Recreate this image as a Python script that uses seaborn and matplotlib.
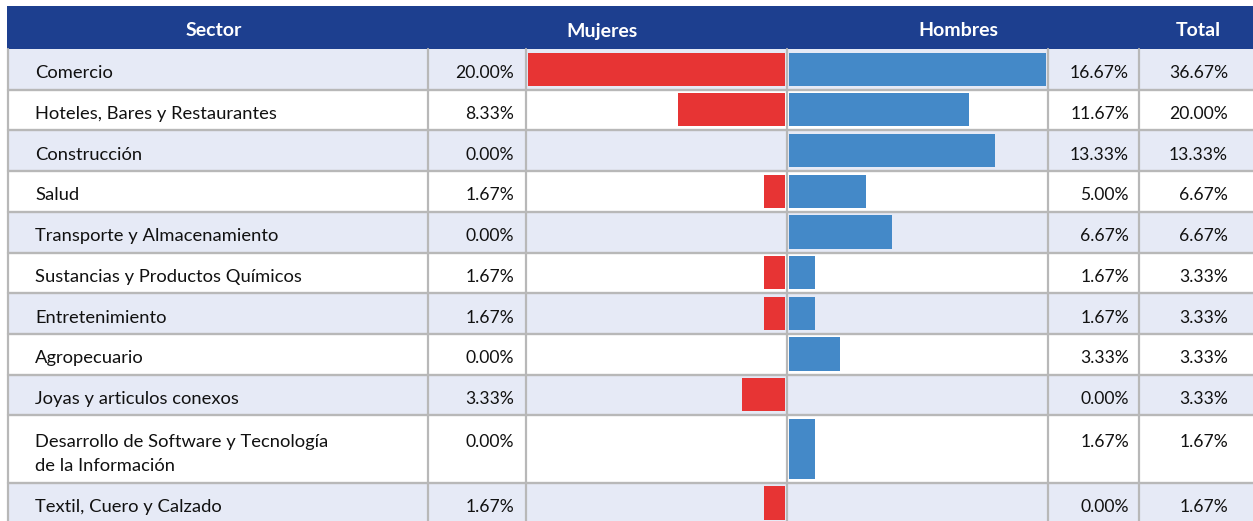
import numpy as np
import pandas as pd
import seaborn as sns
import matplotlib.pyplot as plt
from matplotlib.patches import Rectangle

sectores = [
    "Comercio",
    "Hoteles, Bares y Restaurantes",
    "Construcción",
    "Salud",
    "Transporte y Almacenamiento",
    "Sustancias y Productos Químicos",
    "Entretenimiento",
    "Agropecuario",
    "Joyas y articulos conexos",
    "Desarrollo de Software y Tecnología\nde la Información",
    "Textil, Cuero y Calzado",
]
mujeres = [20.00, 8.33, 0.00, 1.67, 0.00, 1.67, 1.67, 0.00, 3.33, 0.00, 1.67]
hombres = [16.67, 11.67, 13.33, 5.00, 6.67, 1.67, 1.67, 3.33, 0.00, 1.67, 0.00]
total = [36.67, 20.00, 13.33, 6.67, 6.67, 3.33, 3.33, 3.33, 3.33, 1.67, 1.67]
headers = ["Sector", "Mujeres", "Hombres", "Total"]

df = pd.DataFrame({"Sector": sectores, "Mujeres": mujeres,
                   "Hombres": hombres, "Total": total})

# colours
header_col = "#1d3f8f"
band_col = "#e6eaf6"
grid_col = "#b8b8b8"
red = "#e73434"
blue = "#4489c8"
ink = "#111111"

sns.set_theme(style="white")
plt.rcParams["font.family"] = ["Lato", "DejaVu Sans"]

W, H = 1253, 521
fig = plt.figure(figsize=(W / 100, H / 100), dpi=100)
ax = fig.add_axes([0, 0, 1, 1])
ax.set_xlim(0, W)
ax.set_ylim(H, 0)
ax.axis("off")

# row geometry (pixels)
head_top, head_bot = 6, 49
row_h = [40.7] * 9 + [67.3, 41]
tops = head_bot + np.concatenate([[0], np.cumsum(row_h)[:-1]])
bots = tops + np.array(row_h)
x_left = 8
col_lines = [8, 428, 526, 787, 1048, 1139]

# header
ax.add_patch(Rectangle((7, head_top), W - 7, head_bot - head_top,
                       color=header_col, lw=0))
for txt, xc in zip(headers, [213.5, 601.5, 958, 1198]):
    ax.text(xc, 31, txt, color="white", fontsize=14, fontweight="bold",
            ha="center", va="center")

# row bands and lines
for i, (t, b) in enumerate(zip(tops, bots)):
    if i % 2 == 0:
        ax.add_patch(Rectangle((x_left, t), W - x_left, b - t,
                               color=band_col, lw=0, zorder=0))
    ax.plot([x_left, W], [b, b], color=grid_col, lw=1.7, zorder=2)
for xl in col_lines:
    ax.plot([xl, xl], [head_bot, H + 5], color=grid_col, lw=1.6, zorder=2)

# texts
lab_fs, num_fs = 13.2, 12.6
for i, row in df.iterrows():
    t, b = tops[i], bots[i]
    if "\n" in row["Sector"]:
        y1 = t + 26.5
        l1, l2 = row["Sector"].split("\n")
        ax.text(35, y1, l1, fontsize=lab_fs, ha="left", va="center", color=ink)
        ax.text(35, y1 + 24, l2, fontsize=lab_fs, ha="left", va="center", color=ink)
    else:
        y1 = (t + b) / 2 + 4
        ax.text(35, y1, row["Sector"], fontsize=lab_fs, ha="left", va="center",
                color=ink)
    ax.text(514, y1, f"{row['Mujeres']:.2f}%", fontsize=num_fs, ha="right",
            va="center", color=ink)
    ax.text(1129, y1, f"{row['Hombres']:.2f}%", fontsize=num_fs, ha="right",
            va="center", color=ink)
    ax.text(1228, y1, f"{row['Total']:.2f}%", fontsize=num_fs, ha="right",
            va="center", color=ink)

centers = (tops + bots) / 2
bar_len = 257


def bar_axes(x0, x1, zero_px, vals, color, leftward):
    a = fig.add_axes([x0 / W, 0, (x1 - x0) / W, 1])
    a.patch.set_alpha(0)
    s = bar_len / max(vals)
    sns.barplot(x=vals, y=centers, orient="h", native_scale=True,
                color=color, saturation=1, linewidth=0, ax=a)
    for p, t, b in zip(a.patches, tops, bots):
        p.set_y(t + 3.5)
        p.set_height(b - t - 7.5)
    if leftward:
        a.set_xlim((zero_px - x0) / s, (zero_px - x1) / s)
    else:
        a.set_xlim((x0 - zero_px) / s, (x1 - zero_px) / s)
    a.set_ylim(H, 0)
    a.axis("off")
    return a


bar_axes(526, 787, 785, mujeres, red, True)
bar_axes(787, 1048, 789, hombres, blue, False)

fig.savefig("out.png", dpi=100)
